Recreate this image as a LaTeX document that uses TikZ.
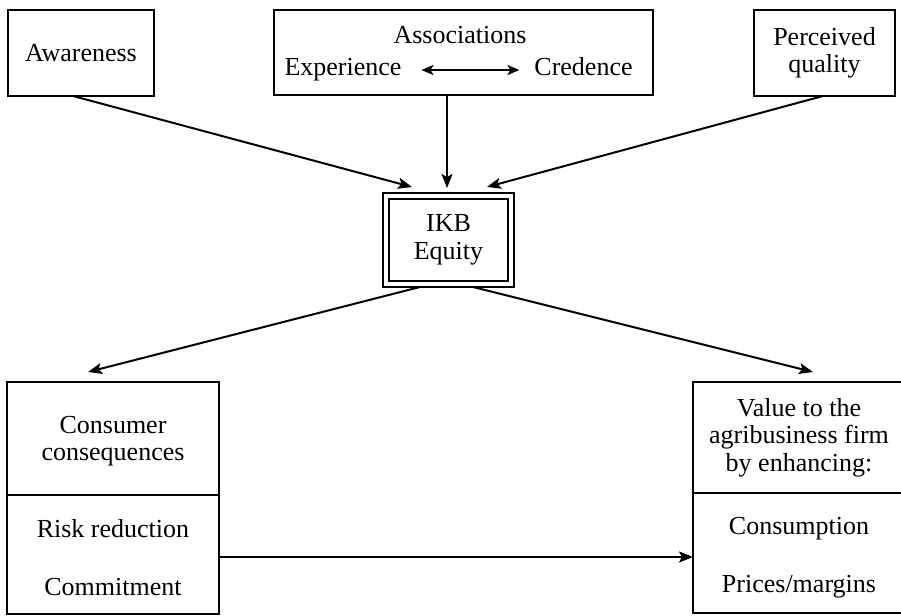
\documentclass[tikz,border=0pt]{standalone}
\usepackage{fontspec}
\setmainfont{Liberation Serif}
\usetikzlibrary{arrows.meta}
\begin{document}
\begin{tikzpicture}[x=0.5pt,y=-0.5pt,
  every node/.style={font=\fontsize{13pt}{13.75pt}\selectfont, inner sep=0pt, outer sep=0pt},
  box/.style={draw, line width=1pt, rectangle, align=center},
  txt/.style={align=center},
  arr/.style={-{Stealth[length=7pt,width=5.5pt,inset=1.5pt]}, line width=1pt},
  dblarr/.style={{Stealth[length=6pt,width=5pt,inset=1.5pt]}-{Stealth[length=6pt,width=5pt,inset=1.5pt]}, line width=1pt},
]
\useasboundingbox (0,0) rectangle (901,616);

% top row
\node[box, minimum width=73pt, minimum height=43pt] (aw) at (81,53) {Awareness};
\node[box, minimum width=189.5pt, minimum height=42.5pt] (assoc) at (463.5,52.5) {};
\node[anchor=base] (asstitle) at (460,43) {Associations};
\node[anchor=base] (exp) at (343,75) {Experience};
\node[anchor=base] (cred) at (583.5,75) {Credence};
\draw[dblarr] ([shift={(20,-5)}]exp.base east) -- ([shift={(-15,-5)}]cred.base west);
\node[box, minimum width=70.5pt, minimum height=43pt] (pq) at (824.5,53) {Perceived\\quality};

% central equity box
\node[box, double, line width=0.8pt, double distance=2.2pt,
      minimum width=62.5pt, minimum height=44pt] (ikb) at (448.5,240) {IKB\\Equity};

% bottom left: consumer consequences
\node[box, minimum width=106pt, minimum height=56.5pt] (cctop) at (113,438.5) {};
\node[box, minimum width=106pt, minimum height=59.5pt] (ccbot) at (113,554.5) {};
\node[txt, anchor=north] (cctxt) at (113,416) {Consumer\\consequences};
\node[txt, anchor=north] (risktxt) at (113,519) {Risk reduction\\[15.25pt]Commitment};

% bottom right: value to the firm
\node[box, minimum width=106pt, minimum height=55.5pt] (vtop) at (799,437.5) {};
\node[box, minimum width=106pt, minimum height=60pt] (vbot) at (799,553) {};
\node[txt, anchor=north] (vtxt) at (799,398) {Value to the\\agribusiness firm\\by enhancing:};
\node[txt, anchor=north] (constxt) at (799,517) {Consumption\\[15.25pt]Prices/margins};

% connectors
\draw[arr] ([shift={(-8,0)}]aw.south) -- ([shift={(26,-9)}]ikb.north west);
\draw[arr] ([shift={(-16.5,0)}]assoc.south) -- ([shift={(-1.5,-8)}]ikb.north);
\draw[arr] ([shift={(-1.5,0)}]pq.south) -- ([shift={(-24,-9)}]ikb.north east);
\draw[arr] ([shift={(-28.5,3)}]ikb.south) -- ([shift={(-25,-10)}]cctop.north);
\draw[arr] ([shift={(24.5,3)}]ikb.south) -- ([shift={(14,-10)}]vtop.north);
\draw[arr] ([shift={(0,2.5)}]ccbot.east) -- ([shift={(0,4)}]vbot.west);
\end{tikzpicture}
\end{document}
